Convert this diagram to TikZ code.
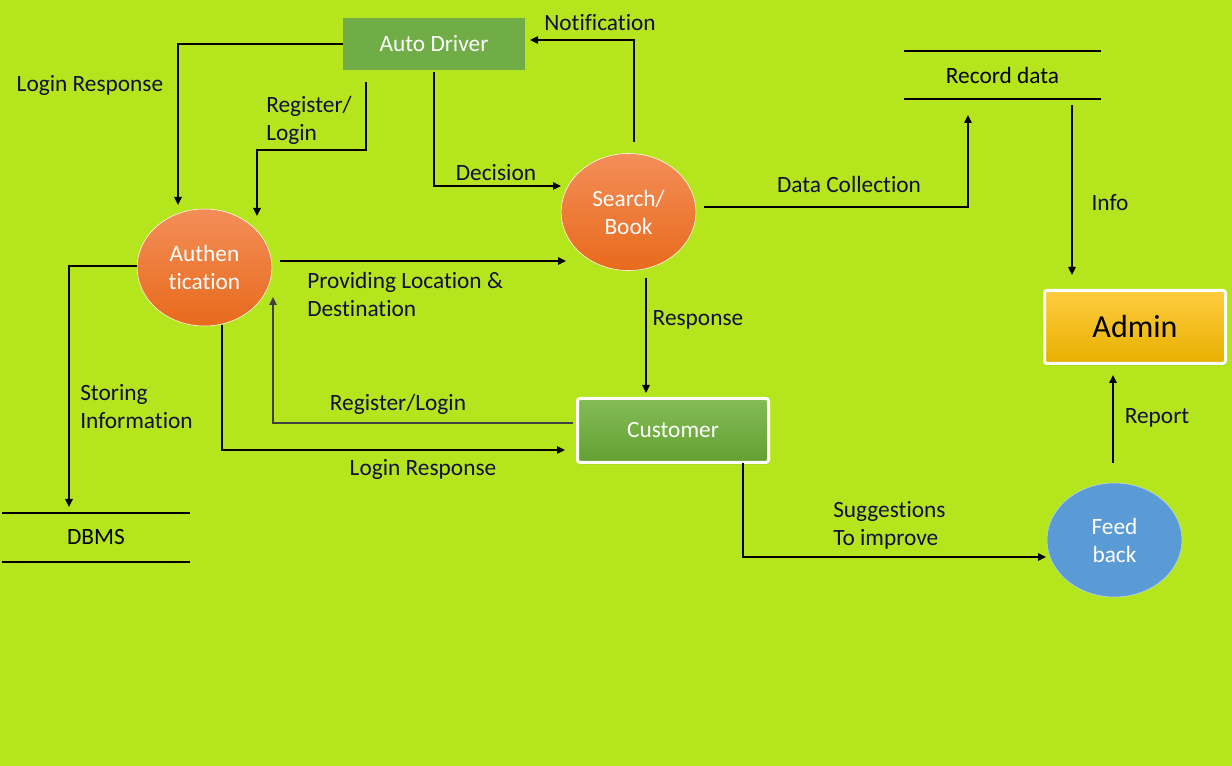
\documentclass[tikz,border=0pt]{standalone}
\usepackage{fontspec}
\setmainfont{Carlito}[Ligatures=NoCommon]
\usetikzlibrary{arrows.meta,shapes.geometric,shadows}
\definecolor{bg}{RGB}{181,230,29}
\definecolor{drvgreen}{RGB}{112,173,71}
\definecolor{custtop}{RGB}{132,188,86}
\definecolor{custbot}{RGB}{98,160,50}
\definecolor{ortop}{RGB}{243,142,88}
\definecolor{orbot}{RGB}{232,106,28}
\definecolor{admtop}{RGB}{255,204,64}
\definecolor{admbot}{RGB}{232,176,0}
\definecolor{fbblue}{RGB}{91,155,213}
\definecolor{lblcol}{RGB}{15,15,55}
\begin{document}
\begin{tikzpicture}[x=0.75pt,y=-0.75pt,
  every node/.style={font=\fontsize{17.5}{21}\selectfont},
  drvbox/.style={rectangle,fill=drvgreen,text=white,minimum width=136.5pt,minimum height=39pt,inner sep=0pt},
  custbox/.style={rectangle,rounded corners=2pt,top color=custtop,bottom color=custbot,draw=white,line width=2.25pt,text=white,minimum width=143.25pt,minimum height=48pt,inner sep=0pt,drop shadow={shadow xshift=1pt,shadow yshift=-1.5pt,opacity=0.35}},
  admbox/.style={rectangle,rounded corners=2pt,top color=admtop,bottom color=admbot,draw=white,line width=2.25pt,text=black,minimum width=135.75pt,minimum height=54.75pt,inner sep=0pt,font=\fontsize{24}{28}\selectfont,drop shadow={shadow xshift=1pt,shadow yshift=-1.5pt,opacity=0.35}},
  proc/.style={ellipse,top color=ortop,bottom color=orbot,draw=white,line width=0.4pt,text=white,align=center,inner sep=0pt,minimum width=101pt,minimum height=87.75pt},
  fbk/.style={ellipse,fill=fbblue,draw=white!60!fbblue,line width=0.4pt,text=white,align=center,inner sep=0pt,minimum width=101.25pt,minimum height=85.5pt},
  store/.style={rectangle,inner sep=0pt,text=black},
  storeline/.style={line width=1.5pt,black},
  lbl/.style={text=lblcol,inner sep=0pt,align=left},
  arr/.style={line width=1.4pt,black,-{Triangle[length=6pt,width=5.5pt]}},
  arrg/.style={line width=1.4pt,black!75,-{Triangle[length=6pt,width=5.5pt]}}
]
\fill[bg] (0,0) rectangle (1232,766);
\useasboundingbox (0,0) rectangle (1232,766);

% nodes
\node[drvbox] (driver) at (434,44) {Auto Driver};
\node[proc] (auth) at (204.5,267.5) {Authen\\tication};
\node[proc] (search) at (628.5,212) {Search/\\Book};
\node[custbox] (cust) at (673,430.5) {Customer};
\node[admbox] (admin) at (1135,327) {Admin};
\node[fbk] (feed) at (1114.5,540) {Feed\\back};
\node[store,minimum width=147.75pt,minimum height=36pt] (rec) at (1002.5,75) {Record data};
\node[store,minimum width=141pt,minimum height=36.75pt] (dbms) at (96,537.5) {DBMS};
\draw[storeline] (rec.north west) -- (rec.north east);
\draw[storeline] (rec.south west) -- (rec.south east);
\draw[storeline] (dbms.north west) -- (dbms.north east);
\draw[storeline] (dbms.south west) -- (dbms.south east);

% free ends
\coordinate (c1) at (178,205);
\coordinate (c2s) at (366,82);
\coordinate (c2e) at (257,216);
\coordinate (c3s) at (434,72);
\coordinate (c3e) at (561,186);
\coordinate (c4s) at (634,142);
\coordinate (c4e) at (530,40);
\coordinate (c5s) at (280,261);
\coordinate (c5e) at (566,261);
\coordinate (c6s) at (704,207);
\coordinate (c6e) at (968,115);
\coordinate (c7s) at (1072,105);
\coordinate (c7e) at (1072,275);
\coordinate (c8s) at (1113,463);
\coordinate (c8e) at (1113,375);
\coordinate (c9s) at (743,463);
\coordinate (c9e) at (1046,557);
\coordinate (c10s) at (646,278);
\coordinate (c10e) at (646,393);
\coordinate (c11s) at (573,423);
\coordinate (c11e) at (273,297);
\coordinate (c12s) at (222,325);
\coordinate (c12e) at (565,450);
\coordinate (c13s) at (137,266);
\coordinate (c13e) at (69,507);

% connectors
\draw[arr] (driver.west) -| (c1);
\draw[arr] (c2s) -- (366,150) -| (c2e);
\draw[arr] (c3s) |- (c3e);
\draw[arr] (c4s) |- (c4e);
\draw[arr] (c5s) -- (c5e);
\draw[arr] (c6s) -| (c6e);
\draw[arr] (c7s) -- (c7e);
\draw[arr] (c8s) -- (c8e);
\draw[arr] (c9s) |- (c9e);
\draw[arr] (c10s) -- (c10e);
\draw[arrg] (c11s) -| (c11e);
\draw[arr] (c12s) |- (c12e);
\draw[arr] (c13s) -| (c13e);

% labels
\node[lbl] (l1) at (90,85) {Login Response};
\node[lbl,anchor=west] (l2) at (266,120) {Register/\\Login};
\node[lbl] (l3) at (496,173) {Decision};
\node[lbl] (l4) at (600,23) {Notification};
\node[lbl] (l5) at (849,184) {Data Collection};
\node[lbl] (l6) at (1110,203) {Info};
\node[lbl,anchor=west] (l7) at (307,294) {Providing Location \&\\Destination};
\node[lbl] (l8) at (698,320) {Response};
\node[lbl] (l9) at (398,404) {Register/Login};
\node[lbl] (l10) at (423,469) {Login Response};
\node[lbl,anchor=west] (l11) at (80,407) {Storing\\Information};
\node[lbl] (l12) at (1157,418) {Report};
\node[lbl,anchor=west] (l13) at (833,525) {Suggestions\\To improve};
\end{tikzpicture}
\end{document}
